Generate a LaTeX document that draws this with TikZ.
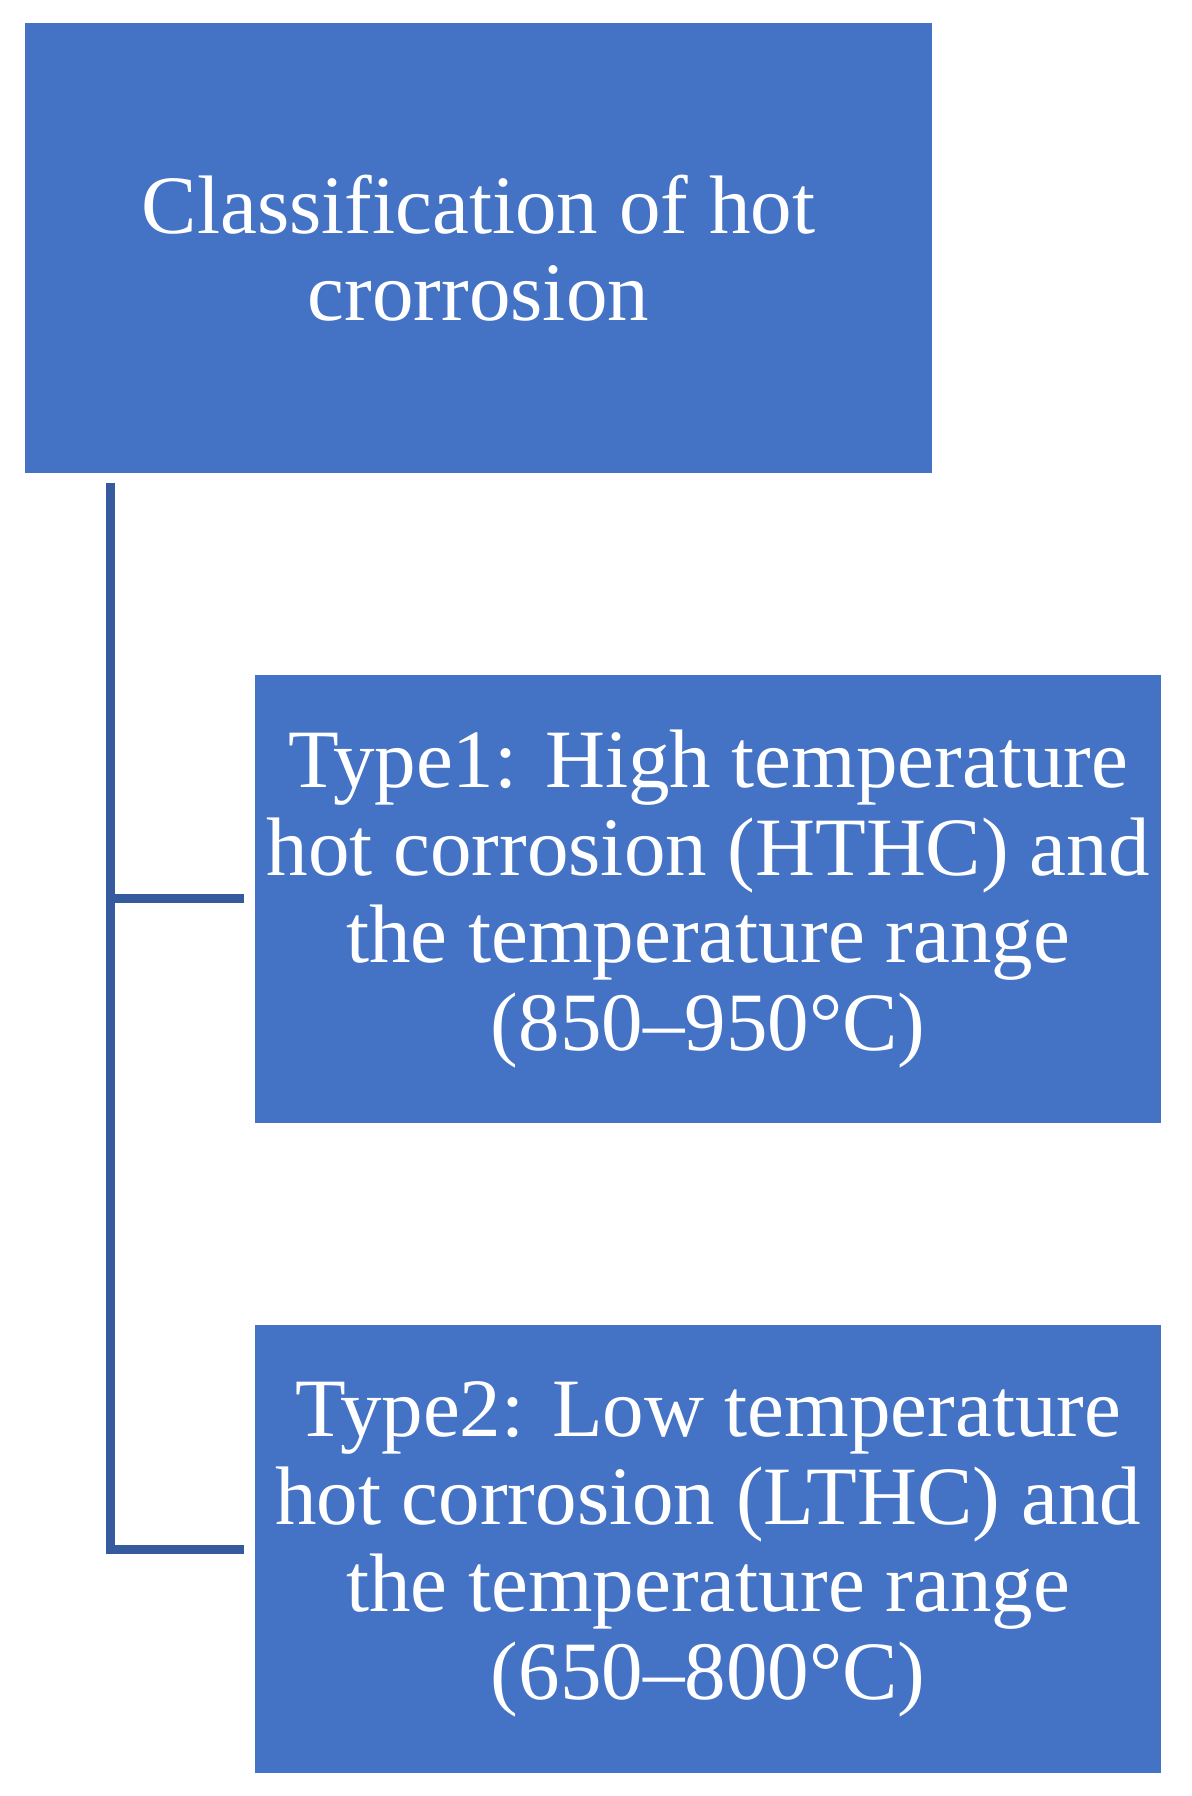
\documentclass[tikz,border=0pt]{standalone}
\usepackage{fontspec}
\setmainfont{Liberation Serif}
\usepackage{tikz}
\usetikzlibrary{shapes, arrows, positioning}
\definecolor{boxblue}{RGB}{68,114,196}
\definecolor{linkblue}{RGB}{54,90,158}
\tikzstyle{bigbox} = [rectangle,minimum width=9.07cm,minimum height=4.5cm,inner sep=0pt,align=center,text=white,fill=boxblue,font=\fontsize{23.6}{24.9}\selectfont]
\tikzstyle{typebox} = [rectangle,minimum width=9.06cm,minimum height=4.48cm,inner sep=0pt,align=center,text=white,fill=boxblue,font=\fontsize{23.6}{24.9}\selectfont]
\tikzstyle{link} = [line width=2.56pt,draw=linkblue]

\begin{document}
\begin{tikzpicture}[x=0.01cm,y=-0.01cm,node distance=6.5cm]
				\useasboundingbox (0,0) rectangle (1192,1796);
				\node (classify) [bigbox] at (478.5,248) {Classification of hot\\crorrosion};
				\node (type1) [typebox, below of=classify, xshift=2.295cm, yshift=-0.005cm] {Type1: High temperature\\hot corrosion (HTHC) and\\the temperature range\\(850--950°C)};
				\node (type2) [typebox, below of=type1] {Type2: Low temperature\\hot corrosion (LTHC) and\\the temperature range\\(650--800°C)};
				\coordinate (trunk) at ([xshift=0.865cm,yshift=-0.09cm]classify.south west);

				%连接线
				\draw [link](trunk) |- ([xshift=-0.1cm]type2.west);
				\draw [link](trunk |- type1.west) -- ([xshift=-0.1cm]type1.west);

			\end{tikzpicture}
\end{document}
